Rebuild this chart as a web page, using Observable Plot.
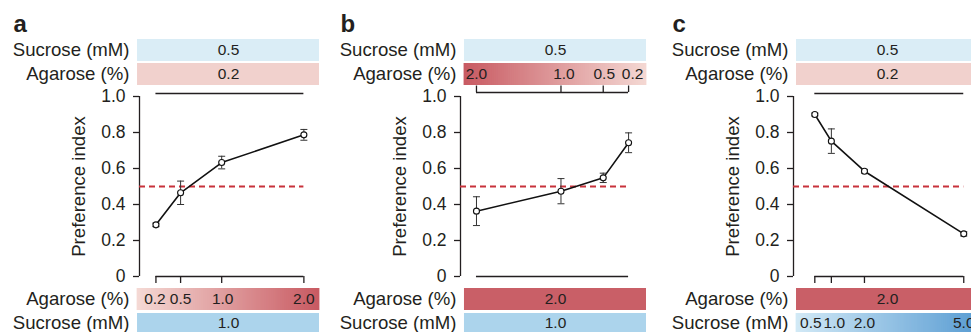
<!DOCTYPE html>
<html><head><meta charset="utf-8">
<script src="https://cdn.jsdelivr.net/npm/d3@7"></script>
<script src="https://cdn.jsdelivr.net/npm/@observablehq/plot@0.6"></script>
<style>
html,body{margin:0;padding:0;background:#fff;overflow:hidden;}
#wrap{position:relative;width:971px;height:332px;overflow:hidden;}
#wrap svg{position:absolute;top:0;max-width:none;}
</style></head><body><div id="wrap"></div>
<script>
// ---- data ----
const aAgarose = [0.2, 0.5, 1.0, 2.0];
const aPref = [0.287, 0.465, 0.633, 0.787];
const aErr = [0.01, 0.065, 0.035, 0.03];

const bAgarose = [2.0, 1.0, 0.5, 0.2];
const bPref = [0.363, 0.474, 0.548, 0.743];
const bErr = [0.08, 0.07, 0.026, 0.055];

const cSucrose = [0.5, 1.0, 2.0, 5.0];
const cPref = [0.9, 0.752, 0.585, 0.237];
const cErr = [0.008, 0.068, 0.01, 0.012];

const yTicks = [0, 0.2, 0.4, 0.6, 0.8, 1.0];
const panelLetters = ["a", "b", "c"];
const sucroseLabel = "Sucrose (mM)";
const agaroseLabel = "Agarose (%)";
const aLabels = ["0.2", "0.5", "1.0", "2.0"];
const bLabels = ["2.0", "1.0", "0.5", "0.2"];
const cLabels = ["0.5", "1.0", "2.0", "5.0"];

// ---- layout ----
const INK = "#231f20";
const FONT = "'Liberation Sans', Arial, Helvetica, sans-serif";
const pv = py => (276 - py) / 180; // pixel row -> y value (layout helper)
const ROWS = {top1: [39, 61, 50], top2: [63, 85, 74], bot1: [288, 310, 299], bot2: [313, 338, 322.5]};

const capSymbol = {draw(ctx, size) { const w = Math.sqrt(size / Math.PI); ctx.moveTo(-w, 0); ctx.lineTo(w, 0); }};

const panels = [
  {letter: panelLetters[0], left: 0, width: 330, marginLeft: 139, marginRight: 11,
   domain: [0, 2.19], barL: -0.024, barR: 2.19, xs: aAgarose, ys: aPref, es: aErr,
   top: "line", bottom: "bracketDown",
   grad: ["#f5dad5", "#c85a62"],
   rows: [
     {pos: "top1", label: sucroseLabel, fill: "#daedf6", text: "0.5"},
     {pos: "top2", label: agaroseLabel, fill: "#f1d1cd", text: "0.2"},
     {pos: "bot1", label: agaroseLabel, gradient: true, values: aAgarose, labels: aLabels, dxs: [-1, 0, 1, 0]},
     {pos: "bot2", label: sucroseLabel, fill: "#acd4ec", text: "1.0"}
   ]},
  {letter: panelLetters[1], left: 330, width: 330, marginLeft: 130, marginRight: 14,
   domain: [2.189, -0.012], barL: 2.142, barR: -0.012, xs: bAgarose, ys: bPref, es: bErr,
   top: "bracketUp", bottom: "line",
   grad: ["#c85a62", "#f4d8d3"],
   rows: [
     {pos: "top1", label: sucroseLabel, fill: "#daedf6", text: "0.5"},
     {pos: "top2", label: agaroseLabel, gradient: true, values: bAgarose, labels: bLabels, dxs: [0, 3, 1, 4]},
     {pos: "bot1", label: agaroseLabel, fill: "#c95f67", text: "2.0"},
     {pos: "bot2", label: sucroseLabel, fill: "#acd4ec", text: "1.0"}
   ]},
  {letter: panelLetters[2], left: 660, width: 311, marginLeft: 133, marginRight: 0,
   domain: [-0.144, 5.234], barL: -0.053, barR: 5.445, xs: cSucrose, ys: cPref, es: cErr,
   top: "line", bottom: "bracketDown",
   grad: ["#d2e9f6", "#5a9dd3"],
   rows: [
     {pos: "top1", label: sucroseLabel, fill: "#daedf6", text: "0.5"},
     {pos: "top2", label: agaroseLabel, fill: "#f1d1cd", text: "0.2"},
     {pos: "bot1", label: agaroseLabel, fill: "#c95f67", text: "2.0"},
     {pos: "bot2", label: sucroseLabel, gradient: true, values: cSucrose, labels: cLabels, dxs: [-4, 3, 0, 0]}
   ]}
];

function rowMarks(p, row) {
  const [py1, py2, pyc] = ROWS[row.pos];
  const y1 = pv(py1), y2 = pv(py2), yc = pv(pyc);
  const marks = [];
  if (row.gradient) {
    const n = 90;
    const slices = d3.range(n).map(i => ({
      x1: p.barL + (p.barR - p.barL) * i / n,
      x2: p.barL + (p.barR - p.barL) * (i + 1) / n,
      t: (i + 0.5) / n
    }));
    marks.push(Plot.rect(slices, {x1: "x1", x2: "x2", y1, y2, fill: "t", insetLeft: -0.4, insetRight: -0.4}));
    row.values.forEach((v, i) => {
      marks.push(Plot.text([row.labels[i]], {x: v, y: yc, text: d => d, fontSize: 15.5, fill: INK, dx: row.dxs[i]}));
    });
  } else {
    marks.push(Plot.rect([row.text], {x1: p.barL, x2: p.barR, y1, y2, fill: row.fill}));
    marks.push(Plot.text([row.text], {x: (p.barL + p.barR) / 2, y: yc, text: d => d, fontSize: 15.5, fill: INK}));
  }
  marks.push(Plot.text([row.label], {x: p.barL, y: yc, text: d => d, textAnchor: "end", dx: -8, fontSize: 18.6, fill: INK}));
  return marks;
}

const wrap = document.getElementById("wrap");
for (const p of panels) {
  const data = p.xs.map((x, i) => ({x, y: p.ys[i], e: p.es[i]}));
  const xmin = d3.min(p.xs), xmax = d3.max(p.xs);
  const rightX = p.domain[0] > p.domain[1] ? xmin : xmax;
  const marks = [];
  p.rows.forEach(r => marks.push(...rowMarks(p, r)));

  // top condition line / bracket
  if (p.top === "line") {
    marks.push(Plot.ruleY([pv(93)], {x1: xmin, x2: xmax, stroke: INK, strokeWidth: 1.3}));
  } else {
    marks.push(Plot.ruleY([pv(92)], {x1: xmin, x2: xmax, stroke: INK, strokeWidth: 1.3}));
    marks.push(Plot.ruleX(p.xs, {x: d => d, y1: pv(92), y2: pv(85.5), stroke: INK, strokeWidth: 1.3}));
  }
  if (p.bottom === "line") {
    marks.push(Plot.ruleY([0], {x1: xmin, x2: xmax, stroke: INK, strokeWidth: 1.3}));
  } else {
    marks.push(Plot.ruleY([0], {x1: xmin, x2: xmax, stroke: INK, strokeWidth: 1.3}));
    marks.push(Plot.ruleX(p.xs, {x: d => d, y1: 0, y2: pv(283), stroke: INK, strokeWidth: 1.3}));
  }

  // axis
  marks.push(Plot.ruleX([p.domain[0]], {y1: 0, y2: 1, stroke: INK, strokeWidth: 1.3}));
  marks.push(Plot.axisY(yTicks, {anchor: "left", tickSize: 6, tickPadding: 8, fontSize: 17.5, stroke: INK, strokeWidth: 1.3, fill: INK,
    tickFormat: d => d === 0 ? "0" : d.toFixed(1), label: null}));
  marks.push(Plot.text(["Preference index"], {x: p.domain[0], y: 0.5, dx: -60, rotate: -90, fontSize: 18.6, fill: INK, text: d => d}));

  // panel letter
  marks.push(Plot.text([p.letter], {x: p.barL, y: pv(23.5), dx: -124, textAnchor: "start", fontSize: 24, fontWeight: "bold", fill: INK, text: d => d}));

  // chance level
  marks.push(Plot.ruleY([0.5], {x1: p.domain[0], x2: rightX, stroke: "#c8323b", strokeWidth: 1.8, strokeDasharray: "6,4"}));

  // data
  marks.push(Plot.line(data, {x: "x", y: "y", stroke: "#111", strokeWidth: 1.6}));
  marks.push(Plot.ruleX(data, {x: "x", y1: d => d.y - d.e, y2: d => d.y + d.e, stroke: "#333", strokeWidth: 1}));
  marks.push(Plot.dot(data, {x: "x", y: d => d.y + d.e, symbol: capSymbol, r: 3.5, stroke: "#333", strokeWidth: 1}));
  marks.push(Plot.dot(data, {x: "x", y: d => d.y - d.e, symbol: capSymbol, r: 3.5, stroke: "#333", strokeWidth: 1}));
  marks.push(Plot.dot(data, {x: "x", y: "y", r: 3, fill: "white", stroke: "#111", strokeWidth: 1.1}));

  const svg = Plot.plot({
    width: p.width, height: 332,
    marginLeft: p.marginLeft, marginRight: p.marginRight, marginTop: 96, marginBottom: 56,
    x: {domain: p.domain, axis: null},
    y: {domain: [0, 1]},
    color: {type: "linear", domain: [0, 1], range: p.grad, interpolate: "rgb"},
    style: {fontFamily: FONT, color: INK, background: "transparent"},
    marks
  });
  svg.style.left = p.left + "px";
  wrap.appendChild(svg);
}
</script></body></html>
